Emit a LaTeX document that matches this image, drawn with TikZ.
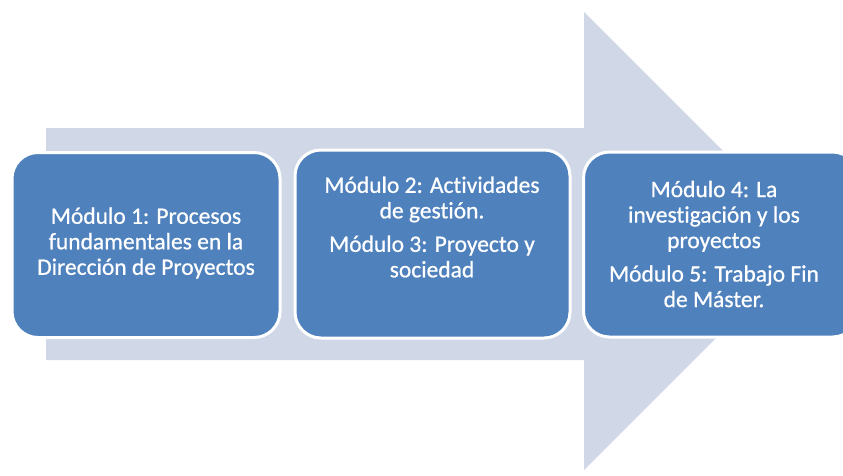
\documentclass[tikz,border=0pt]{standalone}
\usepackage{fontspec}
\setmainfont{Carlito}[Ligatures=NoCommon,FakeBold=0.7]
\definecolor{arrowc}{RGB}{208,216,232}
\definecolor{boxc}{RGB}{79,129,189}
\begin{document}
\begin{tikzpicture}[x=1pt,y=-1pt,
  modbox/.style={draw=white,line width=3pt,fill=boxc,rounded corners=26pt},
  modtext/.style={text=white,align=center,font=\fontsize{23.5}{25.5}\selectfont,inner sep=0pt}]
\useasboundingbox (0,0) rectangle (843,475);
% background arrow
\fill[arrowc] (46,128) -- (584,128) -- (584,12) -- (813,241) -- (584,470) -- (584,360) -- (46,360) -- cycle;
% boxes
\node[modbox,minimum width=268pt,minimum height=185pt] (b1) at (146,245) {};
\node[modbox,minimum width=275pt,minimum height=188pt] (b2) at (432.5,244) {};
\node[modbox,minimum width=275pt,minimum height=185pt] (b3) at (721,244.5) {};
\node[modtext] (t1) at (146,243) {Módulo 1: Procesos\\fundamentales en la\\Dirección de Proyectos};
\node[modtext] (t2) at (432,227) {Módulo 2: Actividades\\de gestión.\\[8pt]Módulo 3: Proyecto y\\sociedad};
\node[modtext] (t3) at (714,244) {Módulo 4: La\\investigación y los\\proyectos\\[8pt]Módulo 5: Trabajo Fin\\de Máster.};
\end{tikzpicture}
\end{document}
